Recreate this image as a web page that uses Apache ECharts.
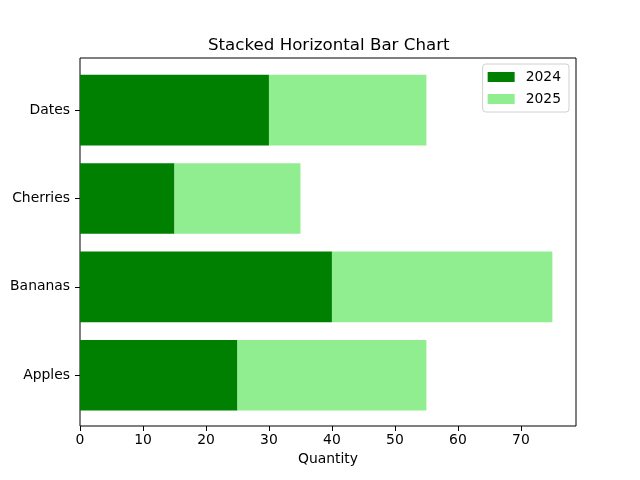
<!DOCTYPE html>
<html><head><meta charset="utf-8">
<script src="https://cdn.jsdelivr.net/npm/echarts@6/dist/echarts.min.js"></script>
<style>html,body{margin:0;padding:0;background:#fff}#c{width:640px;height:480px}</style>
</head><body><div id="c"></div>
<script>
const categories = ['Apples', 'Bananas', 'Cherries', 'Dates'];
const values2024 = [25, 40, 15, 30];
const values2025 = [30, 35, 20, 25];
const xTicks = [0, 10, 20, 30, 40, 50, 60, 70];

const font = 'DejaVu Sans';
const chart = echarts.init(document.getElementById('c'), null, {renderer: 'canvas'});
chart.setOption({
  animation: false,
  backgroundColor: '#fff',
  textStyle: {fontFamily: font},
  title: {
    text: 'Stacked Horizontal Bar Chart',
    left: 203, top: 32,
    textStyle: {fontFamily: font, fontSize: 16.67, fontWeight: 'normal', color: '#000'}
  },
  legend: {
    orient: 'vertical', right: 71, top: 64,
    itemWidth: 27, itemHeight: 10, itemGap: 8,
    padding: [6, 8, 6, 5],
    borderColor: '#d0d0d0', borderWidth: 1, borderRadius: 3,
    backgroundColor: 'rgba(255,255,255,0.8)',
    icon: 'rect',
    textStyle: {fontFamily: font, fontSize: 13.9, color: '#000', padding: [0, 0, 0, 6]},
    data: ['2024', '2025']
  },
  grid: [
    {left: 80, right: 64, top: 58, bottom: 54, show: true, borderColor: '#000', borderWidth: 1, backgroundColor: 'transparent'},
    {left: 80, right: 64, top: 66, bottom: 60.6}
  ],
  xAxis: [
    {gridIndex: 0, type: 'value', show: false, min: 0, max: 1},
    {gridIndex: 1, type: 'value', min: 0, max: 78.75, interval: 10, offset: 6.6,
     name: 'Quantity', nameLocation: 'middle', nameGap: 26,
     nameTextStyle: {fontFamily: font, fontSize: 13.9, color: '#000'},
     axisLine: {show: false},
     axisTick: {show: true, length: 5, lineStyle: {color: '#000'}, customValues: xTicks},
     axisLabel: {fontFamily: font, fontSize: 13.9, color: '#000', margin: 7, customValues: xTicks},
     splitLine: {show: false}}
  ],
  yAxis: [
    {gridIndex: 0, type: 'value', show: false, min: 0, max: 1},
    {gridIndex: 1, type: 'category', data: categories,
     axisLine: {show: false},
     axisTick: {show: true, alignWithLabel: true, length: 5, lineStyle: {color: '#000'}},
     axisLabel: {fontFamily: font, fontSize: 13.9, color: '#000', margin: 10}}
  ],
  series: [
    {name: '2024', type: 'bar', stack: 'total', xAxisIndex: 1, yAxisIndex: 1,
     data: values2024, barWidth: '80%', itemStyle: {color: '#008000'}},
    {name: '2025', type: 'bar', stack: 'total', xAxisIndex: 1, yAxisIndex: 1,
     data: values2025, barWidth: '80%', itemStyle: {color: '#90EE90'}}
  ]
});
</script></body></html>
